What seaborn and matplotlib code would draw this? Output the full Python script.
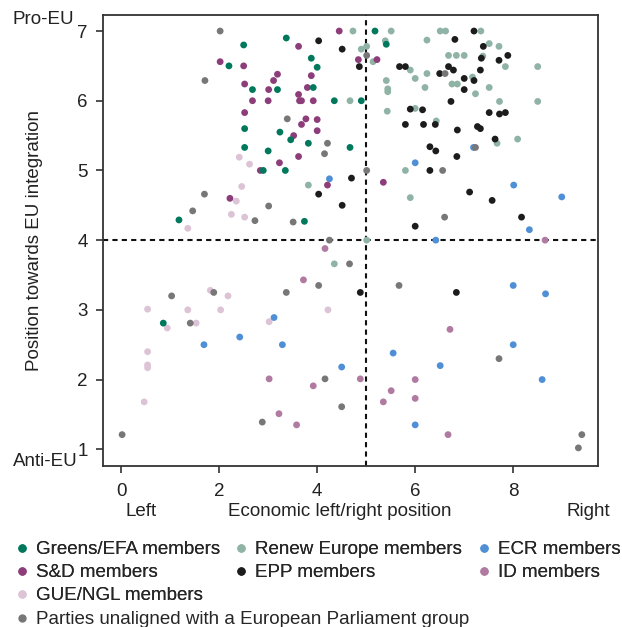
import numpy as np
import pandas as pd
import matplotlib
matplotlib.use("Agg")
import matplotlib.pyplot as plt
from matplotlib.lines import Line2D
import seaborn as sns

# group labels and colours
grp_names = ["Greens/EFA members", "S&D members", "GUE/NGL members",
             "Renew Europe members", "EPP members", "ECR members", "ID members",
             "Parties unaligned with a European Parliament group"]
grp_colors = ["#00785c", "#8c3d7a", "#dcc3d6", "#8fb3a5", "#1c1c1c",
              "#4f8fd6", "#b07aa1", "#777777"]

# party positions (economic left/right, EU integration)
greens_x = [2.5, 2.2, 2.68, 2.52, 5.18, 3.37, 5.41, 3.88, 4.0, 3.19, 3.92, 4.35, 4.9, 3.24,
            2.52, 3.0, 2.9, 1.18, 3.46, 3.82, 4.67, 3.35, 3.74, 0.86]
greens_y = [6.8, 6.5, 6.16, 5.6, 7.0, 6.9, 6.81, 6.61, 6.48, 6.16, 6.19, 6.0, 6.0, 5.55,
            5.33, 5.28, 5.0, 4.29, 5.44, 5.39, 5.33, 5.0, 4.27, 2.81]

sd_x = [2.02, 2.5, 2.52, 3.01, 2.68, 3.0, 2.52, 4.45, 3.62, 4.84, 5.22, 3.19, 3.88, 3.11, 3.8,
        3.62, 3.64, 3.68, 3.92, 3.77, 4.0, 3.68, 4.0, 3.52, 3.62, 3.23, 2.84, 2.22, 4.21, 5.35]
sd_y = [6.56, 6.5, 6.24, 6.16, 6.0, 6.0, 5.83, 7.0, 6.78, 6.59, 6.59, 6.38, 6.36, 6.29, 6.19,
        6.09, 6.0, 6.0, 6.0, 5.74, 5.73, 5.66, 5.57, 5.5, 5.2, 5.11, 5.0, 4.6, 4.79, 4.83]

gue_x = [2.41, 2.62, 2.46, 2.35, 2.25, 2.52, 1.36, 1.82, 2.18, 0.54, 1.36, 2.03, 4.22, 0.94,
         1.53, 3.02, 0.54, 0.54, 0.54, 0.47]
gue_y = [5.19, 5.09, 4.77, 4.56, 4.37, 4.33, 4.17, 3.28, 3.2, 3.01, 3.0, 3.0, 3.0, 2.74,
         2.81, 2.83, 2.4, 2.21, 2.17, 1.68]

renew_x = [4.73, 5.51, 5.39, 6.24, 4.9, 5.01, 5.14, 5.9, 6.24, 6.0, 5.41, 5.44, 5.44, 6.2,
           4.67, 5.43, 6.0, 6.51, 6.62, 7.34, 7.51, 7.71, 6.68, 6.84, 7.0, 7.38, 7.84, 8.5,
           7.17, 6.75, 6.86, 7.51, 7.23, 7.72, 8.5, 6.43, 5.8, 3.82, 5.9, 5.01, 7.67, 8.09, 4.35]
renew_y = [7.0, 7.0, 6.86, 6.87, 6.74, 6.78, 6.56, 6.44, 6.39, 6.32, 6.29, 6.17, 6.13, 6.19,
           6.0, 5.85, 5.89, 7.0, 7.0, 7.0, 6.82, 6.78, 6.65, 6.65, 6.65, 6.64, 6.49, 6.49,
           6.34, 6.24, 6.24, 6.19, 6.1, 5.99, 5.99, 5.71, 5.0, 4.79, 4.61, 4.0, 5.39, 5.45, 3.66]

epp_x = [4.03, 4.51, 4.86, 5.68, 5.8, 5.9, 6.15, 5.8, 6.17, 7.2, 6.81, 7.39, 7.35, 7.71, 7.89,
         6.68, 6.78, 6.5, 7.0, 7.2, 7.33, 7.0, 6.73, 7.51, 7.72, 7.84, 6.41, 6.86, 7.27, 7.33,
         6.3, 6.3, 4.7, 4.03, 4.51, 6.0, 7.63, 6.42, 6.85, 7.11, 7.57, 8.17, 4.88, 6.84]
epp_y = [6.86, 6.74, 6.49, 6.49, 6.49, 5.88, 5.87, 5.66, 5.66, 7.0, 6.88, 6.78, 6.61, 6.58, 6.65,
         6.49, 6.44, 6.39, 6.32, 6.29, 6.44, 6.16, 5.99, 5.83, 5.81, 5.83, 5.66, 5.58, 5.63, 5.6,
         5.34, 5.0, 4.89, 4.66, 4.5, 4.2, 5.45, 5.28, 5.2, 4.69, 4.57, 4.33, 3.25, 3.25]

ecr_x = [6.0, 4.25, 7.19, 8.01, 8.99, 8.33, 6.42, 3.12, 2.42, 1.69, 3.29, 8.0, 8.66, 8.0,
         5.55, 4.5, 6.51, 8.59, 6.0]
ecr_y = [5.11, 4.88, 5.33, 4.79, 4.62, 4.15, 4.0, 2.89, 2.61, 2.5, 2.5, 3.35, 3.23, 2.5,
         2.38, 2.18, 2.2, 2.0, 1.35]

id_x = [8.65, 4.16, 3.72, 6.71, 3.02, 3.92, 3.22, 3.58, 4.88, 6.0, 5.51, 6.0, 5.35, 6.67]
id_y = [4.0, 3.88, 3.43, 2.72, 2.01, 1.91, 1.51, 1.35, 2.01, 2.0, 1.84, 1.73, 1.68, 1.21]

ni_x = [2.02, 1.71, 5.01, 3.39, 6.61, 1.7, 3.01, 1.46, 2.73, 4.21, 4.15, 5.01, 3.51, 4.25,
        7.23, 6.56, 6.6, 4.66, 4.03, 3.37, 1.89, 1.03, 1.41, 5.67, 7.71, 0.02, 4.16, 4.5,
        2.88, 9.4, 9.33]
ni_y = [7.0, 6.29, 6.65, 5.74, 6.39, 4.66, 4.49, 4.42, 4.28, 5.39, 5.24, 5.0, 4.26, 4.0,
        5.33, 5.0, 4.33, 3.66, 3.35, 3.25, 3.25, 3.2, 2.81, 3.35, 2.3, 1.21, 2.01, 1.61,
        1.39, 1.21, 1.02]

xs = [greens_x, sd_x, gue_x, renew_x, epp_x, ecr_x, id_x, ni_x]
ys = [greens_y, sd_y, gue_y, renew_y, epp_y, ecr_y, id_y, ni_y]

# stack into one frame, in drawing order (later rows drawn on top)
draw_order = [2, 6, 5, 3, 1, 0, 4, 7]
frames = []
for i in draw_order:
    frames.append(pd.DataFrame({"econ": xs[i], "eu": ys[i], "group": grp_names[i]}))
df = pd.concat(frames, ignore_index=True)

sns.set_theme(style="ticks")
plt.rcParams["font.family"] = ["Liberation Sans", "DejaVu Sans"]
plt.rcParams["font.size"] = 13.5

fig = plt.figure(figsize=(6.22, 6.27), dpi=100)
ax = fig.add_axes([103/622, 1-466/627, 495/622, 451/627])

pal = dict(zip(grp_names, grp_colors))
sns.scatterplot(data=df, x="econ", y="eu", hue="group", palette=pal, s=24,
                linewidth=0, legend=False, ax=ax)

# quadrant lines
ax.axvline(5, color="#111111", lw=1.5, ls=(0, (2.5, 2)), zorder=0)
ax.axhline(4, color="#111111", lw=1.5, ls=(0, (2.5, 2)), zorder=0)

ax.set_xlim(-0.37, 9.73)
ax.set_ylim(0.76, 7.23)
ax.set_xticks([0, 2, 4, 6, 8])
ax.set_yticks([1, 2, 3, 4, 5, 6, 7])
ax.tick_params(labelsize=13.5, length=5, width=1.2, color="#333333", labelcolor="#222222")
ax.tick_params(axis="x", pad=7)
ax.tick_params(axis="y", pad=6)
for sp in ax.spines.values():
    sp.set_visible(True)
    sp.set_linewidth(1.3)
    sp.set_color("#333333")

ax.set_xlabel("Economic left/right position", fontsize=13.5, color="#222222")
ax.xaxis.label.set_va("center")
ax.xaxis.set_label_coords((340-103)/495, -(511-466)/451)
ax.set_ylabel("Position towards EU integration", fontsize=13.5, color="#222222")
ax.yaxis.label.set_va("center")
ax.yaxis.set_label_coords((35-103)/495, 0.5)

fig.text(141/622, 1-511/627, "Left", ha="center", va="center", fontsize=13.5, color="#222222")
fig.text(588/622, 1-511/627, "Right", ha="center", va="center", fontsize=13.5, color="#222222")
fig.text(13/622, 1-20/627, "Pro-EU", ha="left", va="center", fontsize=13.5, color="#222222")
fig.text(13/622, 1-461/627, "Anti-EU", ha="left", va="center", fontsize=13.5, color="#222222")

# legend under the plot
handles = [Line2D([], [], marker="o", ls="", color=c, markersize=5) for c in grp_colors]
leg1 = fig.legend(handles[:7], grp_names[:7], ncol=3, loc="upper left",
                  bbox_to_anchor=(16/622, 1-541/627), frameon=False, fontsize=13.5,
                  handlelength=0.6, handletextpad=0.45, columnspacing=0.85,
                  labelspacing=0.32, borderpad=0, borderaxespad=0)
leg2 = fig.legend(handles[7:], grp_names[7:], loc="upper left",
                  bbox_to_anchor=(16/622, 1-611/627), frameon=False, fontsize=13.5,
                  handlelength=0.6, handletextpad=0.45, borderpad=0, borderaxespad=0)
fig.add_artist(leg1)

fig.savefig("out.png", dpi=100)
